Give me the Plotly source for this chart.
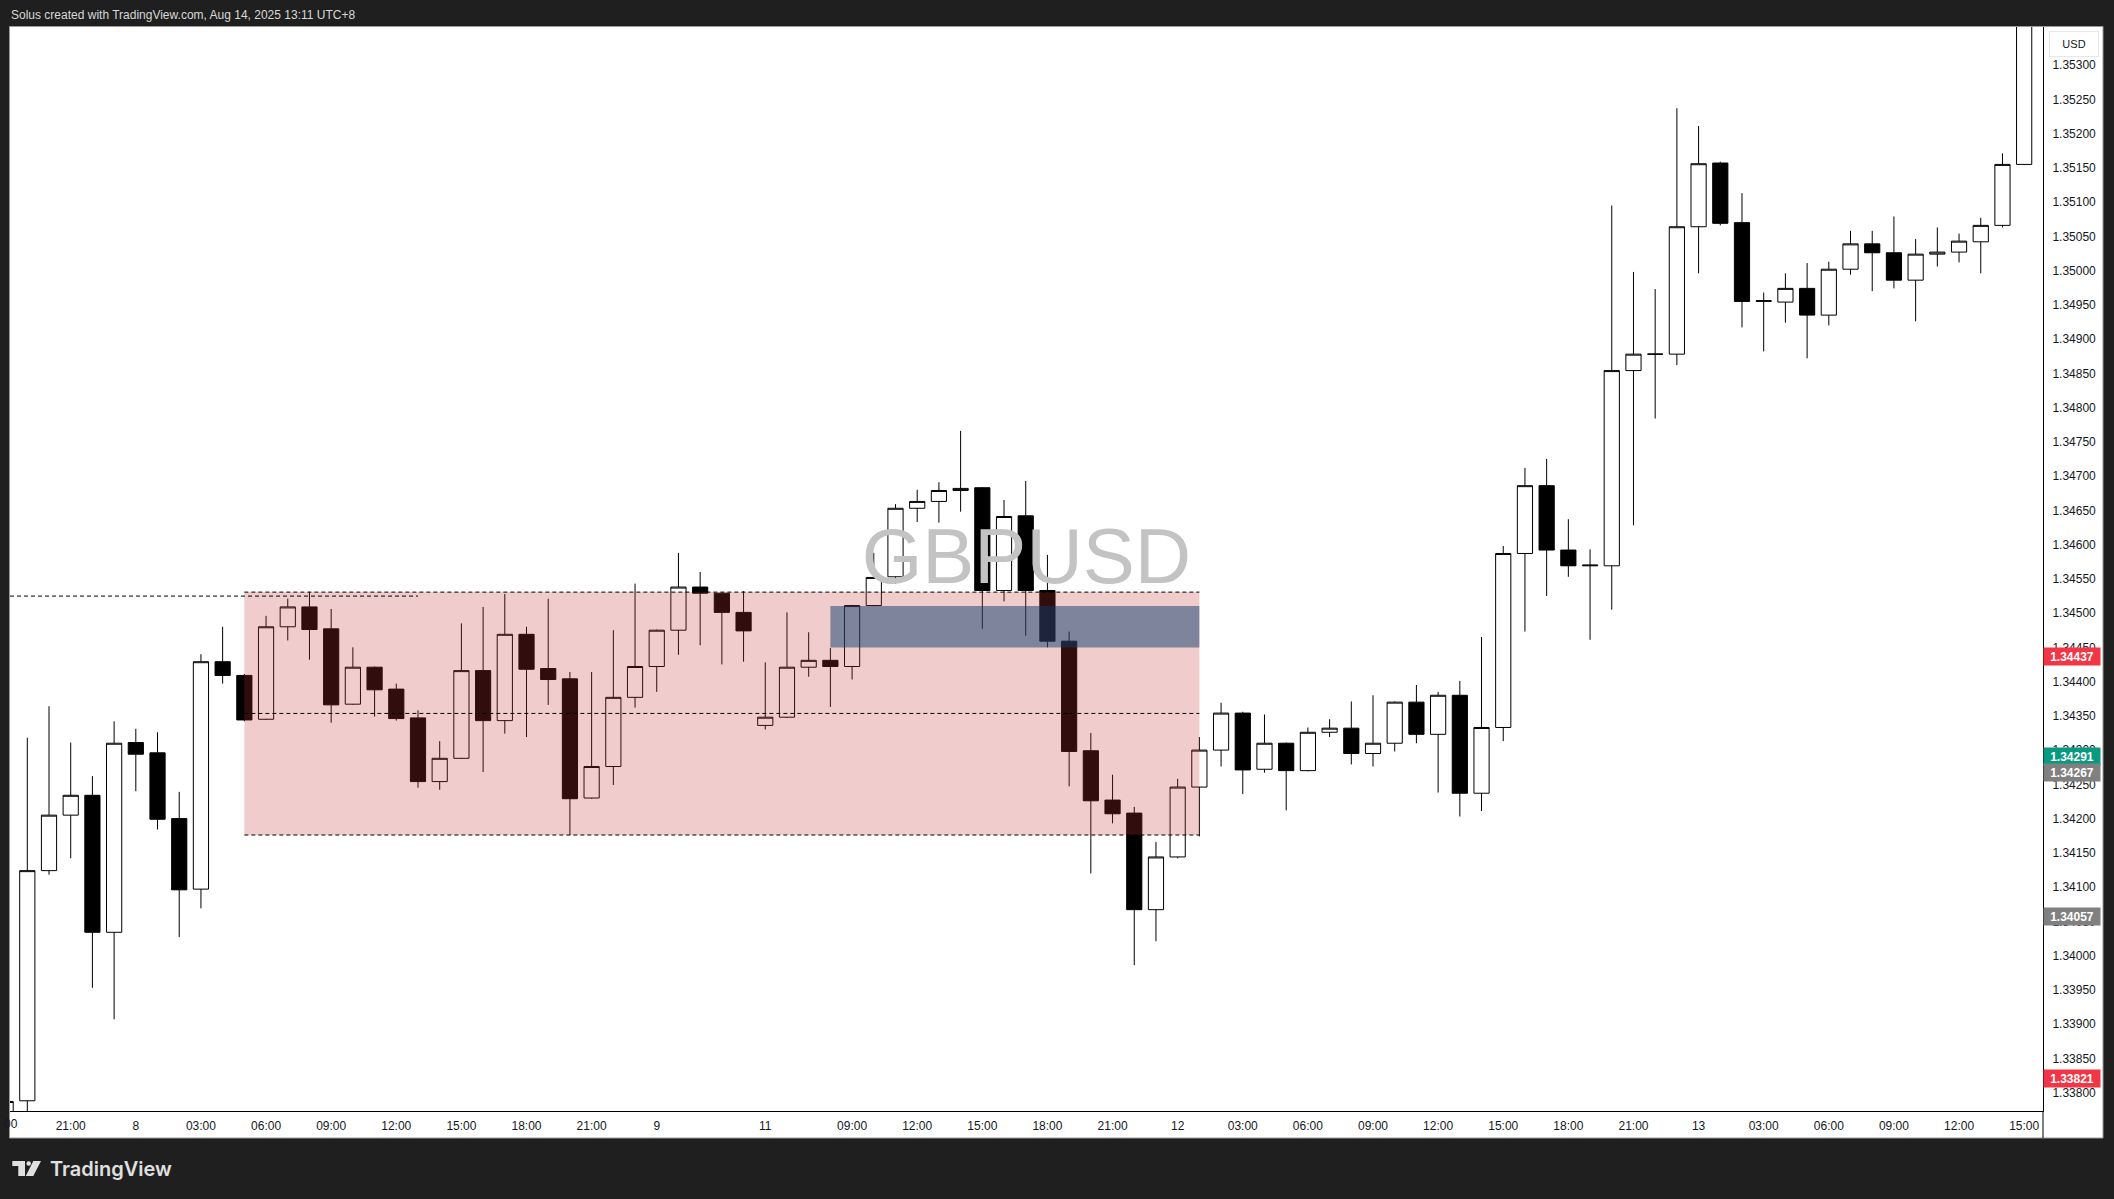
import plotly.graph_objects as go

# ---------------- data (hourly GBPUSD candles, index = bar number) ----------------
idx = list(range(-3, 91))
opens = [1.33700, 1.33788, 1.34124, 1.34205, 1.34234, 1.34034, 1.34311, 1.34296, 1.34200, 1.34097,
         1.34429, 1.34409, 1.34345, 1.34480, 1.34509, 1.34477, 1.34367, 1.34421, 1.34389, 1.34347,
         1.34254, 1.34288, 1.34416, 1.34343, 1.34469, 1.34419, 1.34404, 1.34230, 1.34276, 1.34377,
         1.34422, 1.34475, 1.34538, 1.34529, 1.34501, 1.34336, 1.34348, 1.34421, 1.34431, 1.34422,
         1.34511, 1.34553, 1.34653, 1.34663, 1.34679, 1.34683, 1.34533, 1.34642, 1.34533, 1.34459,
         1.34299, 1.34227, 1.34208, 1.34067, 1.34144, 1.34246, 1.34300, 1.34354, 1.34272, 1.34310,
         1.34270, 1.34326, 1.34332, 1.34295, 1.34310, 1.34370, 1.34323, 1.34380, 1.34237, 1.34333,
         1.34587, 1.34686, 1.34592, 1.34569, 1.34569, 1.34854, 1.34878, 1.34878, 1.35064, 1.35157,
         1.35070, 1.34955, 1.34954, 1.34974, 1.34935, 1.35002, 1.35039, 1.35026, 1.34986, 1.35024,
         1.35027, 1.35042, 1.35066, 1.35155]
highs = [1.33790, 1.34318, 1.34364, 1.34311, 1.34262, 1.34342, 1.34331, 1.34326, 1.34239, 1.34440,
         1.34480, 1.34411, 1.34496, 1.34521, 1.34531, 1.34506, 1.34450, 1.34422, 1.34397, 1.34358,
         1.34313, 1.34485, 1.34509, 1.34528, 1.34480, 1.34521, 1.34414, 1.34414, 1.34475, 1.34543,
         1.34476, 1.34588, 1.34560, 1.34530, 1.34532, 1.34428, 1.34501, 1.34472, 1.34449, 1.34512,
         1.34588, 1.34659, 1.34680, 1.34691, 1.34766, 1.34684, 1.34665, 1.34693, 1.34585, 1.34473,
         1.34325, 1.34264, 1.34217, 1.34166, 1.34258, 1.34319, 1.34369, 1.34356, 1.34352, 1.34311,
         1.34333, 1.34345, 1.34371, 1.34380, 1.34371, 1.34395, 1.34385, 1.34401, 1.34465, 1.34598,
         1.34712, 1.34725, 1.34637, 1.34593, 1.35095, 1.34998, 1.34973, 1.35237, 1.35211, 1.35159,
         1.35113, 1.34968, 1.34996, 1.35011, 1.35013, 1.35058, 1.35058, 1.35079, 1.35046, 1.35063,
         1.35054, 1.35077, 1.35171, 1.35500]
lows = [1.33650, 1.33765, 1.34118, 1.34142, 1.33953, 1.33907, 1.34240, 1.34184, 1.34027, 1.34069,
        1.34397, 1.34342, 1.34344, 1.34460, 1.34432, 1.34340, 1.34366, 1.34349, 1.34343, 1.34245,
        1.34242, 1.34287, 1.34268, 1.34324, 1.34319, 1.34366, 1.34176, 1.34229, 1.34249, 1.34362,
        1.34385, 1.34439, 1.34453, 1.34425, 1.34429, 1.34330, 1.34347, 1.34407, 1.34363, 1.34403,
        1.34510, 1.34543, 1.34633, 1.34632, 1.34648, 1.34477, 1.34517, 1.34467, 1.34450, 1.34247,
        1.34120, 1.34193, 1.33986, 1.34021, 1.34142, 1.34174, 1.34276, 1.34236, 1.34267, 1.34212,
        1.34269, 1.34319, 1.34279, 1.34276, 1.34298, 1.34310, 1.34238, 1.34203, 1.34211, 1.34313,
        1.34473, 1.34525, 1.34553, 1.34461, 1.34505, 1.34628, 1.34784, 1.34862, 1.34996, 1.35066,
        1.34917, 1.34882, 1.34924, 1.34872, 1.34920, 1.34994, 1.34970, 1.34974, 1.34926, 1.35006,
        1.35012, 1.34996, 1.35063, 1.35154]
closes = [1.33787, 1.34124, 1.34205, 1.34234, 1.34034, 1.34310, 1.34294, 1.34199, 1.34096, 1.34429,
          1.34409, 1.34344, 1.34480, 1.34509, 1.34476, 1.34366, 1.34421, 1.34388, 1.34346, 1.34254,
          1.34288, 1.34416, 1.34343, 1.34469, 1.34418, 1.34403, 1.34229, 1.34276, 1.34377, 1.34422,
          1.34475, 1.34538, 1.34529, 1.34501, 1.34474, 1.34348, 1.34421, 1.34431, 1.34422, 1.34511,
          1.34552, 1.34653, 1.34663, 1.34679, 1.34682, 1.34533, 1.34641, 1.34533, 1.34459, 1.34298,
          1.34226, 1.34207, 1.34067, 1.34144, 1.34246, 1.34300, 1.34354, 1.34271, 1.34310, 1.34270,
          1.34326, 1.34332, 1.34295, 1.34310, 1.34370, 1.34323, 1.34380, 1.34237, 1.34333, 1.34587,
          1.34686, 1.34592, 1.34569, 1.34570, 1.34854, 1.34878, 1.34878, 1.35064, 1.35156, 1.35069,
          1.34955, 1.34956, 1.34974, 1.34935, 1.35002, 1.35039, 1.35026, 1.34986, 1.35024, 1.35027,
          1.35043, 1.35066, 1.35155, 1.35450]

tick_pos = [0, 3, 6, 9, 12, 15, 18, 21, 24, 27, 32, 36, 39, 42, 45, 48, 51, 54, 57, 60,
            63, 66, 69, 72, 75, 78, 81, 84, 87, 90]
tick_text = ["21:00", "8", "03:00", "06:00", "09:00", "12:00", "15:00", "18:00", "21:00", "9",
             "11", "09:00", "12:00", "15:00", "18:00", "21:00", "12", "03:00", "06:00", "09:00",
             "12:00", "15:00", "18:00", "21:00", "13", "03:00", "06:00", "09:00", "12:00", "15:00"]

price_tick_labels = ["1.33800", "1.33850", "1.33900", "1.33950", "1.34000", "1.34050", "1.34100",
                     "1.34150", "1.34200", "1.34250", "1.34300", "1.34350", "1.34400", "1.34450",
                     "1.34500", "1.34550", "1.34600", "1.34650", "1.34700", "1.34750", "1.34800",
                     "1.34850", "1.34900", "1.34950", "1.35000", "1.35050", "1.35100", "1.35150",
                     "1.35200", "1.35250", "1.35300"]
price_tick_vals = [float(s) for s in price_tick_labels]

marker_prices = [1.34437, 1.34291, 1.34267, 1.34057, 1.33821]
marker_colors = ["#f23645", "#089981", "#808080", "#808080", "#f23645"]

zone_x = (8, 52)
zone_y = (1.34176, 1.345306)
zone_mid = 1.343535
fvg_x = (35, 52)
fvg_y = (1.344496, 1.345105)
left_level = 1.345248
left_level_end = 16

x_range = [-2.797, 90.868]
y_range = [1.337731, 1.353556]

# ---------------- layout helpers (pixel -> paper) ----------------
W, H = 2114, 1199
L, R, T, B = 10, 71, 27, 88
PW, PH = W - L - R, H - T - B


def px(x):
    return (x - L) / PW


def py(y):
    return (H - B - y) / PH


FONT = "Liberation Sans"
BG = "#1f1f1f"

fig = go.Figure()

# watermark (below candles)
fig.add_trace(go.Scatter(
    x=[44.03], y=[1.34573], mode="text", text=["GBPUSD"],
    textfont=dict(size=78, color="#c3c3c3", family=FONT),
    hoverinfo="skip", showlegend=False))

fig.add_trace(go.Candlestick(
    x=idx, open=opens, high=highs, low=lows, close=closes,
    increasing=dict(line=dict(color="#000000", width=1), fillcolor="#ffffff"),
    decreasing=dict(line=dict(color="#000000", width=1), fillcolor="#000000"),
    whiskerwidth=0, showlegend=False, hoverinfo="skip"))

shapes = []
# white chart panel incl. axes
shapes.append(dict(type="rect", xref="paper", yref="paper", layer="below",
                   x0=px(9.5), x1=px(2103), y0=py(1138), y1=py(26.5),
                   fillcolor="#ffffff", line=dict(color="#9a9a9a", width=1)))
# price-axis separator through the time axis strip
shapes.append(dict(type="line", xref="paper", yref="paper", x0=1, x1=1,
                   y0=py(1138), y1=0, line=dict(color="#000000", width=1)))
# zones (drawn over candles)
shapes.append(dict(type="rect", xref="x", yref="y", layer="above",
                   x0=zone_x[0], x1=zone_x[1], y0=zone_y[0], y1=zone_y[1],
                   fillcolor="rgba(201,51,55,0.25)", line=dict(width=0)))
shapes.append(dict(type="rect", xref="x", yref="y", layer="above",
                   x0=fvg_x[0], x1=fvg_x[1], y0=fvg_y[0], y1=fvg_y[1],
                   fillcolor="rgba(12,59,108,0.5)", line=dict(width=0)))
dash = dict(color="#000000", width=1, dash="4px,3px")
for yv in (zone_y[1], zone_mid, zone_y[0]):
    shapes.append(dict(type="line", xref="x", yref="y", layer="above",
                       x0=zone_x[0], x1=zone_x[1], y0=yv, y1=yv, line=dash))
shapes.append(dict(type="line", xref="x", yref="y", layer="above",
                   x0=x_range[0], x1=left_level_end, y0=left_level, y1=left_level, line=dash))

# TradingView logo
logo_col = "#e0e0e0"
t_pts = [(12.3, 1161), (25, 1161), (25, 1176), (18.3, 1176), (18.3, 1166), (12.3, 1166)]
shapes.append(dict(type="path", xref="paper", yref="paper", fillcolor=logo_col, line=dict(width=0),
                   path="M " + " L ".join(f"{px(a):.6f},{py(b):.6f}" for a, b in t_pts) + " Z"))
shapes.append(dict(type="circle", xref="paper", yref="paper", fillcolor=logo_col, line=dict(width=0),
                   x0=px(26.4), x1=px(31.0), y0=py(1165.8), y1=py(1161.2)))
s_pts = [(33.3, 1161), (41, 1161), (33.3, 1176), (25.8, 1176)]
shapes.append(dict(type="path", xref="paper", yref="paper", fillcolor=logo_col, line=dict(width=0),
                   path="M " + " L ".join(f"{px(a):.6f},{py(b):.6f}" for a, b in s_pts) + " Z"))

annotations = []
annotations.append(dict(xref="paper", yref="paper", x=px(9.4), y=py(15), xanchor="left", yanchor="middle",
                        text="Solus created with TradingView.com, Aug 14, 2025 13:11 UTC+8",
                        showarrow=False, font=dict(size=12, color="#d9d9d9", family=FONT)))
annotations.append(dict(xref="paper", yref="paper", x=px(48), y=py(1169), xanchor="left", yanchor="middle",
                        text="TradingView", showarrow=False,
                        font=dict(size=20, color=logo_col, family="Inter", weight=600)))
annotations.append(dict(xref="paper", yref="paper", x=px(2073.5), y=py(44), xanchor="center", yanchor="middle",
                        text="USD", showarrow=False, width=44, height=20, borderpad=2,
                        bordercolor="#e6e8ee", borderwidth=1, bgcolor="#ffffff",
                        font=dict(size=11, color="#131722", family=FONT)))
# clipped left-most time label (only its tail "00" is visible)
annotations.append(dict(xref="paper", yref="paper", x=px(20), y=py(1124), xanchor="right", yanchor="middle",
                        text="00", showarrow=False, font=dict(size=12, color="#131722", family=FONT)))
for pv, col in zip(marker_prices, marker_colors):
    annotations.append(dict(xref="paper", yref="y", x=1.0, y=pv, xanchor="left", yanchor="middle",
                            text=f"<b>{pv:.5f}</b>", showarrow=False, bgcolor=col,
                            width=52, height=13, borderpad=2, align="center",
                            font=dict(size=12, color="#ffffff", family=FONT)))

fig.update_layout(
    width=W, height=H, margin=dict(l=L, r=R, t=T, b=B),
    paper_bgcolor=BG, plot_bgcolor="#ffffff",
    showlegend=False, boxgap=0.3, boxgroupgap=0,
    shapes=shapes, annotations=annotations,
    xaxis=dict(range=x_range, tickmode="array", tickvals=tick_pos, ticktext=tick_text,
               showgrid=False, zeroline=False, showline=True, linecolor="#000000", linewidth=1,
               ticks="", ticklabelstandoff=4, rangeslider=dict(visible=False),
               tickfont=dict(size=12, color="#131722", family=FONT)),
    yaxis=dict(range=y_range, side="right", tickmode="array", tickvals=price_tick_vals,
               ticktext=price_tick_labels,
               showgrid=False, zeroline=False, showline=True, linecolor="#000000", linewidth=1,
               ticks="", ticklabelstandoff=6,
               tickfont=dict(size=12, color="#131722", family=FONT)),
)

fig.write_html(
    "out.html",
    config={"displayModeBar": False},
    post_script="document.body.style.margin='0';document.body.style.padding='0';"
                "document.body.style.background='" + BG + "';document.body.style.overflow='hidden';",
)
